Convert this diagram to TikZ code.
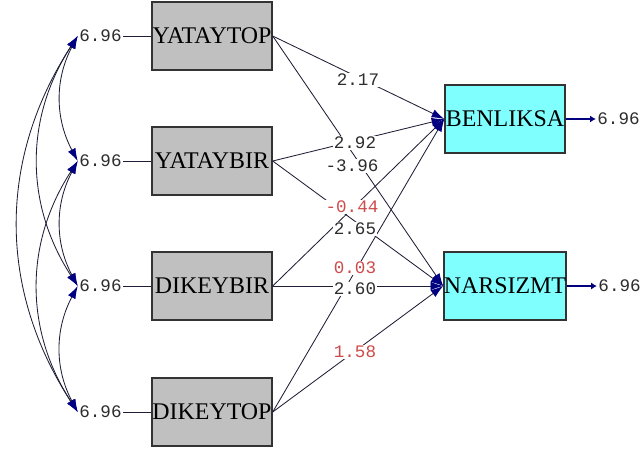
\documentclass[tikz,border=0pt]{standalone}
\usepackage{fontspec}
\setmainfont{Liberation Serif}
\newfontfamily\numfont{Liberation Mono}
\usetikzlibrary{arrows.meta,positioning}
\definecolor{boxgray}{RGB}{192,192,192}
\definecolor{boxcyan}{RGB}{128,255,255}
\definecolor{tipblue}{RGB}{0,0,128}
\definecolor{linedark}{RGB}{30,30,55}
\definecolor{numgray}{RGB}{45,45,45}
\definecolor{numred}{RGB}{205,75,75}

\begin{document}
\begin{tikzpicture}[x=0.025cm,y=-0.025cm,
  exo/.style={draw=black!80,line width=1pt,fill=boxgray,minimum width=3cm,minimum height=1.7cm,inner sep=0pt,font=\fontsize{17}{17}\selectfont},
  endo/.style={exo,fill=boxcyan},
  num/.style={font=\numfont\fontsize{12.5}{12}\selectfont,text=numgray,inner sep=1pt},
  coef/.style={num,fill=white,inner sep=0.5pt},
  redcoef/.style={coef,text=numred},
  effect/.style={draw=linedark,line width=0.6pt,-{Latex[length=9pt,width=6pt,color=tipblue]}},
  covar/.style={draw=linedark,line width=0.6pt,{Latex[length=9pt,width=6pt,color=tipblue]}-{Latex[length=9pt,width=6pt,color=tipblue]}},
  resid/.style={draw=tipblue,line width=1.6pt,-{Latex[length=4pt,width=5pt]}}]
\useasboundingbox (0,0) rectangle (641,450);

% observed variables
\node[exo] (yataytop) at (212,36) {YATAYTOP};
\node[exo] (yataybir) at (212,161) {YATAYBIR};
\node[exo] (dikeybir) at (212,286) {DIKEYBIR};
\node[exo] (dikeytop) at (212,412) {DIKEYTOP};
\node[endo] (benliksa) at (505,119) {BENLIKSA};
\node[endo] (narsizmt) at (505,286) {NARSIZMT};

% error terms
\node[num,left=0.7cm of yataytop] (e1) {6.96};
\node[num,left=0.7cm of yataybir] (e2) {6.96};
\node[num,left=0.7cm of dikeybir] (e3) {6.96};
\node[num,left=0.7cm of dikeytop] (e4) {6.96};
\node[num,right=0.75cm of benliksa] (e5) {6.96};
\node[num,right=0.75cm of narsizmt] (e6) {6.96};

\draw[linedark,line width=0.6pt] (e1) -- (yataytop);
\draw[linedark,line width=0.6pt] (e2) -- (yataybir);
\draw[linedark,line width=0.6pt] (e3) -- (dikeybir);
\draw[linedark,line width=0.6pt] (e4) -- (dikeytop);
\draw[resid] (benliksa) -- (e5);
\draw[resid] (narsizmt) -- (e6);

% covariances
\draw[covar] (e1.west) to[bend right=28] (e2.west);
\draw[covar] (e2.west) to[bend right=28] (e3.west);
\draw[covar] (e3.west) to[bend right=28] (e4.west);
\draw[covar] (e1.west) to[bend right=33] (e3.west);
\draw[covar] (e2.west) to[bend right=33] (e4.west);
\draw[covar] (e1.west) to[bend right=33] (e4.west);

% paths
\draw[effect] (yataytop.east) -- (benliksa.west);
\draw[effect] (yataytop.east) -- (narsizmt.west);
\draw[effect] (yataybir.east) -- (benliksa.west);
\draw[effect] (yataybir.east) -- (narsizmt.west);
\draw[effect] (dikeybir.east) -- (benliksa.west);
\draw[effect] (dikeybir.east) -- (narsizmt.west);
\draw[effect] (dikeytop.east) -- (benliksa.west);
\draw[effect] (dikeytop.east) -- (narsizmt.west);

% estimates
\node[coef] (k1) at (358,80) {2.17};
\node[coef] (k2) at (355,143) {2.92};
\node[coef] (k3) at (352,166) {-3.96};
\node[redcoef] (k4) at (352,207) {-0.44};
\node[coef] (k5) at (355,229) {2.65};
\node[redcoef] (k6) at (355,268) {0.03};
\node[coef] (k7) at (355,289) {2.60};
\node[redcoef] (k8) at (355,352) {1.58};
\end{tikzpicture}
\end{document}
